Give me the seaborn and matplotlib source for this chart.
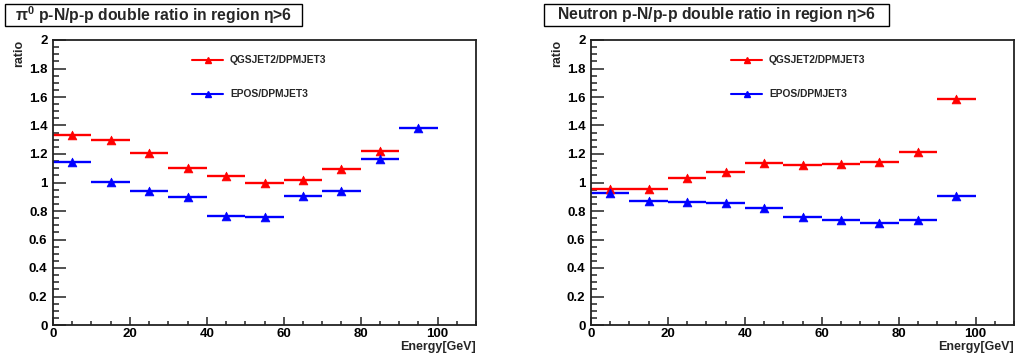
import numpy as np
import pandas as pd
import seaborn as sns
import matplotlib
matplotlib.use("Agg")
import matplotlib.pyplot as plt
from matplotlib.patches import Rectangle
from matplotlib.lines import Line2D
from matplotlib.ticker import MultipleLocator

# ---------------- data ----------------
bin_centers = [5, 15, 25, 35, 45, 55, 65, 75, 85, 95]
bin_half_width = 5

pi0_qgsjet = [1.335, 1.295, 1.205, 1.100, 1.043, 1.000, 1.021, 1.098, 1.218]
pi0_epos = [1.144, 1.004, 0.940, 0.895, 0.767, 0.760, 0.907, 0.940, 1.167, 1.379]
neutron_qgsjet = [0.953, 0.951, 1.030, 1.072, 1.137, 1.126, 1.128, 1.144, 1.214, 1.583]
neutron_epos = [0.927, 0.872, 0.863, 0.858, 0.823, 0.756, 0.737, 0.718, 0.737, 0.904]

series_labels = ["QGSJET2/DPMJET3", "EPOS/DPMJET3"]
series_colors = ["#ff0000", "#0000ff"]
titles = [r"$\mathregular{\pi^0}$ p-N/p-p double ratio in region $\mathregular{\eta}$>6",
          r"Neutron p-N/p-p double ratio in region $\mathregular{\eta}$>6"]
x_label = "Energy[GeV]"
y_label = "ratio"

# ---------------- style ----------------
sns.set_theme(style="ticks")
plt.rcParams["font.family"] = ["Liberation Sans", "DejaVu Sans"]
plt.rcParams["font.weight"] = "bold"
plt.rcParams["mathtext.fontset"] = "custom"
plt.rcParams["mathtext.rm"] = "Liberation Sans:bold"
plt.rcParams["mathtext.it"] = "DejaVu Serif"

W, H = 1019, 362
fig = plt.figure(figsize=(W / 100, H / 100), dpi=100)
fig.patch.set_facecolor("white")


def fx(px):
    return px / W


def fy(py):
    return 1 - py / H


panels = [
    dict(left=53, right=476, data=[pi0_qgsjet, pi0_epos], title=titles[0],
         box=(5, 302), leg_x=192),
    dict(left=591, right=1014, data=[neutron_qgsjet, neutron_epos], title=titles[1],
         box=(544, 889), leg_x=731),
]
top_px, bot_px = 40, 325

for p in panels:
    ax = fig.add_axes([fx(p["left"]), fy(bot_px), fx(p["right"] - p["left"]),
                       (bot_px - top_px) / H])
    for vals, lab, col in zip(p["data"], series_labels, series_colors):
        df = pd.DataFrame({"energy": bin_centers[:len(vals)], "ratio": vals})
        ax.errorbar(df["energy"], df["ratio"], xerr=bin_half_width, fmt="none",
                    ecolor=col, elinewidth=1.7, capsize=0, zorder=2)
        sns.scatterplot(data=df, x="energy", y="ratio", ax=ax, marker="^",
                        color=col, s=40, edgecolor=col, linewidth=0.5,
                        zorder=3, legend=False)
    ax.set_xlim(0, 110)
    ax.set_ylim(0, 2)
    ax.set_xlabel("")
    ax.set_ylabel("")
    ax.xaxis.set_major_locator(MultipleLocator(20))
    ax.xaxis.set_minor_locator(MultipleLocator(5))
    ax.yaxis.set_major_locator(MultipleLocator(0.2))
    ax.yaxis.set_minor_locator(MultipleLocator(0.05))
    ax.set_yticks(np.arange(0, 2.01, 0.2))
    ax.set_yticklabels(["0", "0.2", "0.4", "0.6", "0.8", "1", "1.2", "1.4", "1.6", "1.8", "2"])
    ax.set_xticks([0, 20, 40, 60, 80, 100])
    ax.set_xticklabels(["0", "20", "40", "60", "80", "100"])
    ax.tick_params(axis="y", which="major", direction="in", length=9.5, width=1.2,
                   labelsize=9.5, pad=4, colors="#333333", labelcolor="black")
    ax.tick_params(axis="y", which="minor", direction="in", length=4.5, width=1.2,
                   colors="#333333")
    ax.tick_params(axis="x", which="major", direction="in", length=6, width=1.2,
                   labelsize=9.5, pad=2, colors="#333333", labelcolor="black")
    ax.tick_params(axis="x", which="minor", direction="in", length=3, width=1.2,
                   colors="#333333")
    for lab in ax.get_xticklabels() + ax.get_yticklabels():
        lab.set_fontweight("bold")
    for s in ["left", "bottom", "top", "right"]:
        ax.spines[s].set_visible(True)
        ax.spines[s].set_color("#222222")
        ax.spines[s].set_linewidth(1.3)
    ax.grid(False)

    # axis titles
    fig.text(fx(p["right"]), fy(347), x_label, ha="right", va="center",
             fontsize=9, fontweight="bold")
    fig.text(fx(p["left"] - 34), fy(top_px), y_label, ha="center", va="top",
             rotation=90, fontsize=9, fontweight="bold")

    # title box
    bx0, bx1 = p["box"]
    fig.patches.append(Rectangle((fx(bx0), fy(26)), fx(bx1 - bx0), (26 - 4) / H,
                                 transform=fig.transFigure, facecolor="white",
                                 edgecolor="black", linewidth=1.0))
    fig.text(fx((bx0 + bx1) / 2), fy(15), p["title"], ha="center", va="center",
             fontsize=11.3, fontweight="bold")

    # legend
    lx = p["leg_x"]
    for i, (lab, col) in enumerate(zip(series_labels, series_colors)):
        yy = fy(60 + 34 * i)
        fig.lines.append(Line2D([fx(lx), fx(lx + 31)], [yy, yy], transform=fig.transFigure,
                                color=col, lw=1.5))
        fig.lines.append(Line2D([fx(lx + 15.5)], [yy], transform=fig.transFigure,
                                color=col, marker="^", markersize=5, lw=0))
        fig.text(fx(lx + 38), yy, lab, ha="left", va="center", fontsize=7.4,
                 fontweight="bold")

fig.savefig("out.png", dpi=100, facecolor="white")
